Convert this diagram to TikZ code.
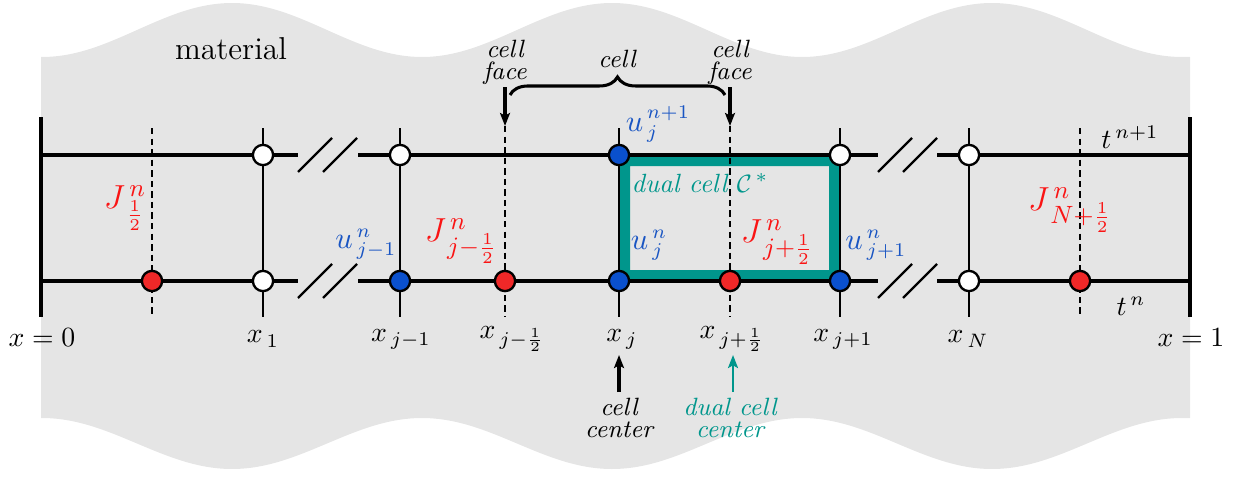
\documentclass[tikz,border=0pt]{standalone}
\usetikzlibrary{arrows.meta,decorations.pathreplacing}
\definecolor{bg}{RGB}{229,229,229}
\definecolor{ublue}{RGB}{10,80,205}
\definecolor{ured}{RGB}{240,40,40}
\definecolor{tealc}{RGB}{0,150,140}
\definecolor{jred}{RGB}{250,20,20}
\definecolor{tblue}{RGB}{25,85,195}
\begin{document}
\begin{tikzpicture}[x=0.36pt,y=-0.36pt,
  main/.style={line width=1.1pt},
  thinl/.style={line width=0.75pt},
  slash/.style={line width=0.85pt},
  dsh/.style={line width=1.05pt, dash pattern=on 2.3pt off 1.5pt},
  pt/.style={circle, draw, line width=0.85pt, minimum size=7.3pt, inner sep=0pt},
  wpt/.style={pt, fill=white},
  bpt/.style={pt, fill=ublue},
  rpt/.style={pt, fill=ured},
  lab/.style={font=\fontsize{10}{12}\selectfont, inner sep=0pt},
  jlab/.style={text=jred, font=\fontsize{12.5}{14}\selectfont, inner sep=0pt},
  ulab/.style={text=tblue, font=\fontsize{10.5}{12}\selectfont, inner sep=0pt},
  note/.style={align=center, inner sep=0pt, anchor=north, font=\fontsize{9}{7.8}\selectfont\itshape},
  arr/.style={-{Stealth[length=4.7pt,width=3.6pt,inset=1pt]}}
]
\useasboundingbox (0,0) rectangle (1233,476);
% background material
\fill[bg] plot[domain=41:1190,samples=160,smooth] (\x,{57-27*(1+cos(0.947368*(\x-232)))})
  -- plot[domain=1190:41,samples=160,smooth] (\x,{418+25.5*(1+cos(0.947368*(\x-232)))}) -- cycle;
\node[font=\fontsize{11.4}{13}\selectfont, inner sep=0pt] (mat) at (231,48.5) {material};

% dual cell
\draw[tealc, line width=3.96pt, rounded corners=1.5pt] (624.5,160.5) rectangle (834.5,275.5);

% horizontal time lines
\foreach \k/\x in {0/41,1/298,2/358,3/878,4/937,5/1190}{
  \coordinate (T\k) at (\x,155);
  \coordinate (B\k) at (\x,281);
}
\draw[main] (T0)--(T1) (T2)--(T3) (T4)--(T5) (B0)--(B1) (B2)--(B3) (B4)--(B5);

% boundaries
\coordinate (LU) at (41,117); \coordinate (LD) at (41,317);
\coordinate (RU) at (1190,117); \coordinate (RD) at (1190,317);
\draw[main] (LU)--(LD) (RU)--(RD);

% grid node verticals
\foreach \nm/\x in {one/263, jm/400, j/619, jp/840, N/969}{
  \coordinate (\nm-u) at (\x,128);
  \coordinate (\nm-d) at (\x,317);
  \draw[thinl] (\nm-u) -- (\nm-d);
}
% break slashes
\foreach \nm/\x in {s1/298,s2/323,s3/878,s4/903}{
  \foreach \r/\y in {t/155,b/281}{
    \coordinate (\nm\r a) at (\x,\y+17);
    \coordinate (\nm\r b) at (\x+34,\y-17);
    \draw[slash] (\nm\r a) -- (\nm\r b);
  }
}
% cell faces (dashed)
\foreach \nm/\x/\y in {h0/152/128, hm/505/126, hp/730/126, hN/1080/128}{
  \coordinate (\nm-u) at (\x,\y);
  \coordinate (\nm-d) at (\x,317);
  \draw[dsh] (\nm-u) -- (\nm-d);
}

% points
\node[wpt] (one-t) at (263,155) {};
\node[wpt] (one-b) at (263,281) {};
\node[wpt] (jm-t) at (400,155) {};
\node[bpt] (jm-b) at (400,281) {};
\node[bpt] (j-t) at (619,155) {};
\node[bpt] (j-b) at (619,281) {};
\node[wpt] (jp-t) at (840,155) {};
\node[bpt] (jp-b) at (840,281) {};
\node[wpt] (N-t) at (969,155) {};
\node[wpt] (N-b) at (969,281) {};
\node[rpt] (h0-b) at (152,281) {};
\node[rpt] (hm-b) at (505,281) {};
\node[rpt] (hp-b) at (730,281) {};
\node[rpt] (hN-b) at (1080,281) {};

% top annotations
\node[note] (cf1) at (505,40) {cell\\face};
\node[note] (cf2) at (730,40) {cell\\face};
\node[note] (cl) at (617,50) {cell};
\coordinate (brL) at (510,95); \coordinate (brR) at (725,95);
\draw[main, decorate, decoration={brace, amplitude=6.5pt}] (brL) -- (brR);
\coordinate (a1s) at (505,87); \coordinate (a2s) at (730,87);
\draw[main, arr] (a1s) -- (hm-u);
\draw[main, arr] (a2s) -- (hp-u);

% labels
\node[ulab] (ujn1) at (658,124) {$u^{\,n+1}_{\,j}$};
\node[text=tealc, inner sep=0pt, font=\fontsize{9.5}{11}\selectfont] (dcl) at (700,183) {\itshape dual cell $\mathcal{C}^{\,*}$};
\node[jlab] (J0) at (125,208) {$J^{\,n}_{\,\frac{1}{2}}$};
\node[ulab] (ujm) at (366,244) {$u^{\,n}_{\,j-1}$};
\node[jlab] (Jm) at (461,241) {$J^{\,n}_{\,j-\frac{1}{2}}$};
\node[ulab] (uj) at (649,245) {$u^{\,n}_{\,j}$};
\node[jlab] (Jp) at (777,242) {$J^{\,n}_{\,j+\frac{1}{2}}$};
\node[ulab] (ujp) at (876,245) {$u^{\,n}_{\,j+1}$};
\node[jlab] (JN) at (1070,210) {$J^{\,n}_{\,N+\frac{1}{2}}$};
\node[lab] (tn1) at (1130,137) {$t^{\,n+1}$};
\node[lab] (tn) at (1131,306) {$t^{\,n}$};

% x labels
\node[lab] (x0) at (42,338) {$x=0$};
\node[lab] (x1) at (263,339) {$x_{\,1}$};
\node[lab] (xjm) at (401,339) {$x_{\,j-1}$};
\node[lab] (xhm) at (512,339) {$x_{\,j-\frac{1}{2}}$};
\node[lab] (xj) at (622,339) {$x_{\,j}$};
\node[lab] (xhp) at (732,339) {$x_{\,j+\frac{1}{2}}$};
\node[lab] (xjp) at (843,339) {$x_{\,j+1}$};
\node[lab] (xN) at (968,339) {$x_{\,N}$};
\node[lab] (x1r) at (1191,338) {$x=1$};

% bottom annotations
\node[note] (cc) at (619,398) {cell\\center};
\node[note, text=tealc] (dcc) at (730,398) {dual cell\\center};
\coordinate (ccs) at (619,392); \coordinate (cce) at (619,355);
\coordinate (dcs) at (733,392); \coordinate (dce) at (733,355);
\draw[main, arr] (ccs) -- (cce);
\draw[tealc, line width=0.85pt, arr] (dcs) -- (dce);
\end{tikzpicture}
\end{document}
